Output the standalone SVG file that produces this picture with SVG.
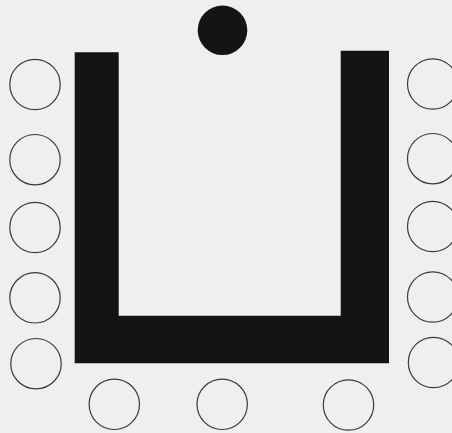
<svg xmlns="http://www.w3.org/2000/svg" width="452" height="433" viewBox="0 0 452 433">
<style>
.seat{fill:none;stroke:#3a3a3a;stroke-width:1.2}
.solid{fill:#141414}
</style>
<rect width="452" height="433" fill="#efefef"/>
<g id="table"><path class="solid" d="M74.7,52.3 H118.7 V315.7 H340.7 V50.7 H389 V363.3 H74.7 Z"/></g>
<g id="head"><circle class="solid" cx="222.5" cy="30.3" r="24.8"/></g>
<g id="left-seats">
<circle class="seat" cx="35" cy="84.5" r="25.2"/>
<circle class="seat" cx="35" cy="159.7" r="25.2"/>
<circle class="seat" cx="35" cy="227.5" r="25.2"/>
<circle class="seat" cx="35" cy="297.8" r="25.2"/>
<circle class="seat" cx="36" cy="363.7" r="25.2"/>
</g>
<g id="right-seats">
<circle class="seat" cx="432.7" cy="84" r="25.2"/>
<circle class="seat" cx="432.7" cy="158.7" r="25.2"/>
<circle class="seat" cx="432.7" cy="226.5" r="25.2"/>
<circle class="seat" cx="432.7" cy="297" r="25.2"/>
<circle class="seat" cx="433.5" cy="362.5" r="25.2"/>
</g>
<g id="bottom-seats">
<circle class="seat" cx="114.3" cy="404.3" r="25.2"/>
<circle class="seat" cx="222.2" cy="404.3" r="25.2"/>
<circle class="seat" cx="348.5" cy="405" r="25.2"/>
</g>
<g id="connectors"/>
</svg>
